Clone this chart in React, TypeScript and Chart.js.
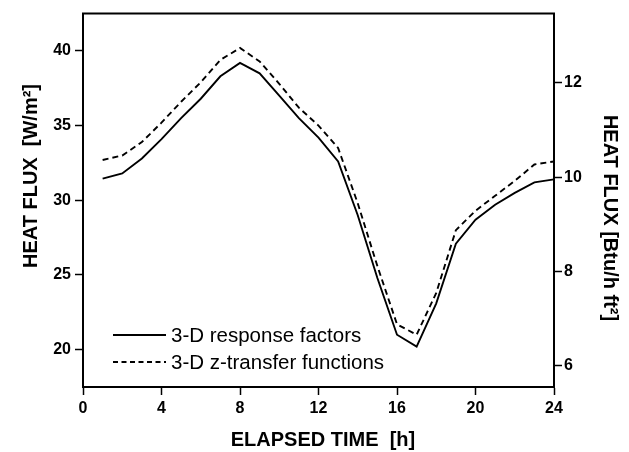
import React, { useEffect, useRef } from "react";
import { Chart, registerables } from "chart.js";

Chart.register(...registerables);

const hours = [1, 2, 3, 4, 5, 6, 7, 8, 9, 10, 11, 12, 13, 14, 15, 16, 17, 18, 19, 20, 21, 22, 23, 24];
const responseFactors = [31.45, 31.8, 32.8, 34.1, 35.5, 36.8, 38.3, 39.2, 38.5, 37.0, 35.5, 34.2, 32.6, 29.0, 24.8, 21.0, 20.2, 23.1, 27.1, 28.7, 29.7, 30.5, 31.2, 31.4];
const zTransfer = [32.7, 33.0, 33.9, 35.2, 36.6, 37.9, 39.4, 40.2, 39.3, 37.8, 36.2, 35.0, 33.5, 29.8, 25.6, 21.7, 21.0, 23.8, 28.0, 29.3, 30.3, 31.3, 32.4, 32.6];
const seriesLabels = ["3-D response factors", "3-D z-transfer functions"];
const xTicks = [0, 4, 8, 12, 16, 20, 24];
const leftTicks = [20, 25, 30, 35, 40];
const rightTicks = [6, 8, 10, 12];
const xTitle = "ELAPSED TIME  [h]";
const leftTitle = "HEAT FLUX  [W/m²]";
const rightTitle = "HEAT FLUX [Btu/h ft²]";

const W_PER_BTU = 3.1546;
const LEFT_MIN = 17.5;
const LEFT_MAX = 42.5;
const FONT = '"Liberation Sans", Arial, Helvetica, sans-serif';

const overlayPlugin = {
  id: "overlay",
  afterDraw(chart: any) {
    const { ctx, chartArea } = chart;
    ctx.save();
    // top border
    ctx.strokeStyle = "#000";
    ctx.lineWidth = 2;
    ctx.beginPath();
    ctx.moveTo(chartArea.left - 1, chartArea.top);
    ctx.lineTo(chartArea.right + 1, chartArea.top);
    ctx.stroke();

    // axis titles
    ctx.fillStyle = "#000";
    ctx.font = `bold 20px ${FONT}`;
    ctx.textAlign = "center";
    ctx.textBaseline = "middle";
    ctx.fillText(xTitle, 323, 440);

    ctx.save();
    ctx.translate(31, 176);
    ctx.rotate(-Math.PI / 2);
    ctx.fillText(leftTitle, 0, 0);
    ctx.restore();

    ctx.save();
    ctx.translate(610, 218);
    ctx.rotate(Math.PI / 2);
    ctx.fillText(rightTitle, 0, 0);
    ctx.restore();

    // legend
    const dashes = [[], [5, 3.5]];
    const rowsY = [335, 362];
    ctx.font = `20.5px ${FONT}`;
    ctx.textAlign = "left";
    chart.data.datasets.forEach((ds: any, i: number) => {
      const y = rowsY[i];
      ctx.strokeStyle = ds.borderColor;
      ctx.lineWidth = 1.8;
      ctx.setLineDash(dashes[i]);
      ctx.beginPath();
      ctx.moveTo(113, y);
      ctx.lineTo(166, y);
      ctx.stroke();
      ctx.setLineDash([]);
      ctx.fillText(ds.label, 171, y + 1);
    });
    ctx.restore();
  },
};

export default function App() {
  const canvasRef = useRef<HTMLCanvasElement | null>(null);

  useEffect(() => {
    if (!canvasRef.current) return;
    const tickFont = { family: FONT, size: 16, weight: "bold" as const };
    const chart = new Chart(canvasRef.current, {
      type: "line",
      data: {
        labels: hours,
        datasets: [
          {
            label: seriesLabels[0],
            data: hours.map((h, i) => ({ x: h, y: responseFactors[i] })),
            borderColor: "#000",
            borderWidth: 1.9,
            pointRadius: 0,
            tension: 0,
            fill: false,
            yAxisID: "y",
          },
          {
            label: seriesLabels[1],
            data: hours.map((h, i) => ({ x: h, y: zTransfer[i] })),
            borderColor: "#000",
            borderWidth: 1.9,
            borderDash: [6, 4],
            pointRadius: 0,
            tension: 0,
            fill: false,
            yAxisID: "y",
          },
        ],
      },
      options: {
        animation: false,
        responsive: false,
        maintainAspectRatio: false,
        layout: { padding: { top: 10, left: 0, right: 0, bottom: 0 } },
        plugins: {
          legend: { display: false },
          tooltip: { enabled: false },
          title: { display: false },
        },
        scales: {
          x: {
            type: "linear",
            min: 0,
            max: 24,
            afterBuildTicks: (s: any) => {
              s.ticks = xTicks.map((v) => ({ value: v }));
            },
            afterFit: (s: any) => {
              s.height = 65;
            },
            grid: { drawOnChartArea: false, drawTicks: true, tickLength: 8, tickWidth: 1.5, tickColor: "#000" },
            border: { display: true, color: "#000", width: 2 },
            ticks: { color: "#000", font: tickFont, padding: 4, maxRotation: 0, autoSkip: false },
          },
          y: {
            type: "linear",
            position: "left",
            min: LEFT_MIN,
            max: LEFT_MAX,
            afterBuildTicks: (s: any) => {
              s.ticks = leftTicks.map((v) => ({ value: v }));
            },
            afterFit: (s: any) => {
              s.width = 83;
            },
            grid: { drawOnChartArea: false, drawTicks: true, tickLength: 8, tickWidth: 1.5, tickColor: "#000" },
            border: { display: true, color: "#000", width: 2 },
            ticks: { color: "#000", font: tickFont, padding: 4, autoSkip: false },
          },
          y2: {
            type: "linear",
            position: "right",
            min: LEFT_MIN / W_PER_BTU,
            max: LEFT_MAX / W_PER_BTU,
            afterBuildTicks: (s: any) => {
              s.ticks = rightTicks.map((v) => ({ value: v }));
            },
            afterFit: (s: any) => {
              s.width = 75;
            },
            grid: { drawOnChartArea: false, drawTicks: true, tickLength: 8, tickWidth: 1.5, tickColor: "#000" },
            border: { display: true, color: "#000", width: 2 },
            ticks: { color: "#000", font: tickFont, padding: 2, autoSkip: false },
          },
        },
      },
      plugins: [overlayPlugin],
    });
    return () => chart.destroy();
  }, []);

  return (
    <div style={{ position: "fixed", left: 0, top: 0, width: 629, height: 452, background: "#fff" }}>
      <canvas ref={canvasRef} width={629} height={452} style={{ display: "block" }} />
    </div>
  );
}
